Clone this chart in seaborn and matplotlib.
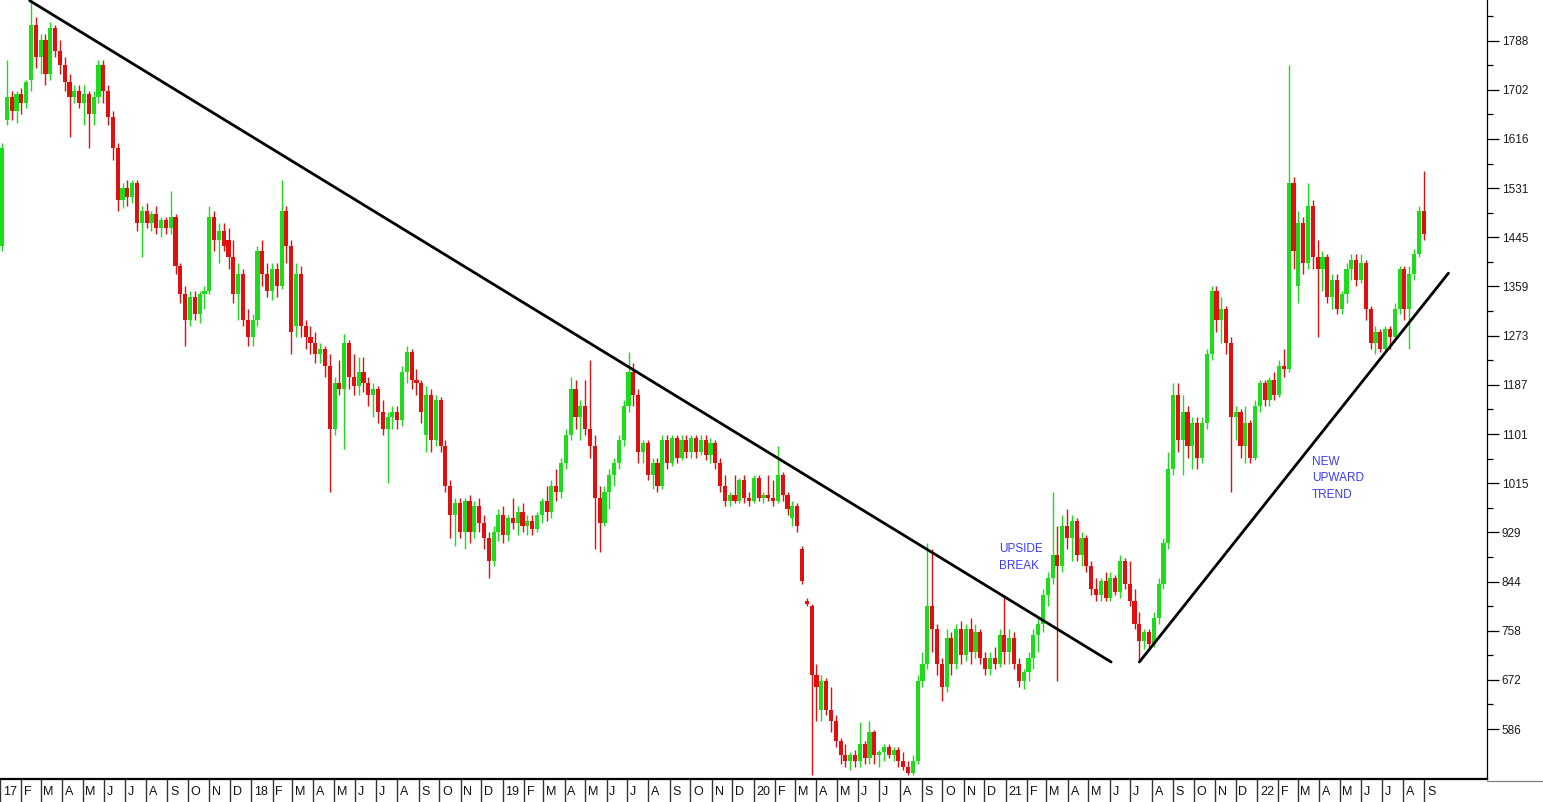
import numpy as np
import pandas as pd
import matplotlib
matplotlib.use("Agg")
import matplotlib.pyplot as plt
import matplotlib.dates as mdates
from matplotlib.lines import Line2D
import seaborn as sns

sns.set_style("white")
plt.rcParams['font.family'] = ['Liberation Sans', 'DejaVu Sans']

# weekly bars, Jan 2017 - Aug 2022
opens = [
    # 2017
    1430, 1650, 1690, 1665, 1695, 1680, 1720, 1815, 1760, 1790, 1730, 1810, 1770, 1745, 1715, 1690, 1700, 1680,
    1695, 1660, 1690, 1745, 1700, 1655, 1600, 1510, 1530, 1515, 1540, 1470, 1490, 1470, 1485, 1460, 1475, 1460,
    1480, 1395, 1345, 1300, 1340, 1310, 1345, 1350, 1480, 1440, 1455, 1440, 1410, 1345, 1380, 1300,
    # 2018
    1270, 1300, 1420, 1380, 1350, 1390, 1360, 1490, 1430, 1290, 1380, 1290, 1270, 1260, 1240, 1250, 1220, 1110,
    1190, 1180, 1260, 1200, 1185, 1210, 1190, 1170, 1180, 1140, 1110, 1130, 1140, 1125, 1210, 1245, 1195, 1190,
    1100, 1170, 1090, 1160, 1080, 1010, 960, 980, 930, 985, 930, 975, 945, 920, 880, 930,
    # 2019
    960, 925, 955, 945, 965, 940, 950, 935, 960, 985, 965, 1010, 1000, 1050, 1100, 1180, 1130, 1150,
    1110, 1080, 990, 945, 1000, 1030, 1050, 1090, 1150, 1210, 1170, 1070, 1085, 1030, 1050, 1010, 1090, 1050,
    1095, 1060, 1090, 1070, 1095, 1070, 1090, 1065, 1085, 1050, 1010, 985, 995, 985, 1020, 990,
    # 2020
    985, 1025, 990, 995, 990, 985, 1030, 995, 955, 975, 900, 810, 800, 680, 620, 670, 620, 600,
    565, 540, 530, 540, 530, 560, 535, 580, 540, 545, 555, 540, 550, 530, 520, 510, 530, 670,
    700, 800, 760, 700, 660, 745, 700, 760, 715, 760, 720, 755, 710, 690, 710, 700, 750,
    # 2021
    720, 745, 700, 670, 685, 710, 750, 770, 820, 850, 890, 870, 940, 920, 950, 890, 920, 870,
    830, 820, 845, 815, 850, 825, 880, 840, 810, 770, 740, 755, 735, 780, 840, 910, 1040, 1170,
    1090, 1140, 1080, 1120, 1060, 1120, 1240, 1350, 1300, 1320, 1260, 1130, 1140, 1080, 1120, 1060,
    # 2022
    1150, 1190, 1160, 1195, 1170, 1220, 1215, 1540, 1360, 1470, 1400, 1500, 1410, 1390, 1410, 1340, 1370, 1320,
    1345, 1390, 1405, 1370, 1400, 1320, 1260, 1280, 1250, 1285, 1270, 1320, 1390, 1320, 1380, 1415, 1490,
]
highs = [
    # 2017
    1610, 1755, 1700, 1700, 1705, 1720, 1855, 1830, 1800, 1800, 1820, 1815, 1790, 1760, 1730, 1710, 1710, 1710,
    1700, 1700, 1755, 1755, 1710, 1665, 1610, 1540, 1545, 1545, 1545, 1500, 1505, 1490, 1500, 1480, 1480, 1525,
    1485, 1400, 1360, 1350, 1350, 1350, 1360, 1500, 1490, 1470, 1470, 1460, 1440, 1400, 1390, 1320,
    # 2018
    1310, 1430, 1440, 1400, 1400, 1400, 1545, 1500, 1440, 1400, 1395, 1300, 1290, 1280, 1260, 1255, 1240, 1200,
    1230, 1275, 1265, 1240, 1235, 1235, 1200, 1190, 1185, 1160, 1140, 1150, 1150, 1220, 1255, 1250, 1215, 1195,
    1185, 1180, 1170, 1165, 1090, 1020, 990, 990, 990, 995, 985, 990, 960, 930, 940, 970,
    # 2019
    975, 960, 990, 975, 980, 960, 960, 965, 990, 1010, 1020, 1040, 1060, 1110, 1200, 1195, 1160, 1195,
    1230, 1100, 1010, 1010, 1040, 1060, 1100, 1160, 1245, 1225, 1180, 1090, 1090, 1060, 1060, 1100, 1100, 1100,
    1100, 1100, 1100, 1100, 1100, 1100, 1100, 1095, 1090, 1060, 1030, 1000, 1030, 1025, 1030, 1000,
    # 2020
    1030, 1030, 1000, 1030, 1020, 1080, 1035, 1000, 985, 980, 905, 815, 805, 700, 680, 675, 660, 610,
    570, 560, 545, 550, 598, 565, 600, 585, 550, 560, 560, 555, 555, 545, 530, 540, 680, 720,
    910, 900, 770, 710, 760, 755, 770, 775, 770, 780, 770, 760, 720, 720, 730, 760, 820,
    # 2021
    760, 755, 710, 690, 720, 760, 780, 830, 860, 1000, 940, 960, 970, 960, 955, 930, 925, 880,
    850, 850, 860, 860, 855, 890, 885, 880, 830, 790, 760, 760, 790, 850, 920, 1070, 1190, 1190,
    1170, 1150, 1130, 1130, 1130, 1250, 1360, 1360, 1340, 1325, 1270, 1150, 1145, 1150, 1125, 1160,
    # 2022
    1195, 1195, 1200, 1210, 1230, 1250, 1745, 1550, 1490, 1480, 1540, 1510, 1440, 1420, 1415, 1380, 1380, 1350,
    1400, 1415, 1415, 1415, 1405, 1325, 1290, 1285, 1290, 1290, 1330, 1395, 1395, 1395, 1425, 1500, 1560,
]
lows = [
    # 2017
    1420, 1640, 1650, 1645, 1660, 1670, 1700, 1740, 1730, 1710, 1720, 1760, 1730, 1700, 1620, 1680, 1670, 1640,
    1600, 1640, 1680, 1680, 1640, 1580, 1490, 1495, 1500, 1505, 1455, 1410, 1460, 1455, 1450, 1445, 1450, 1450,
    1380, 1330, 1255, 1290, 1300, 1295, 1320, 1345, 1420, 1400, 1420, 1390, 1330, 1300, 1290, 1255,
    # 2018
    1255, 1290, 1360, 1340, 1335, 1340, 1355, 1400, 1240, 1270, 1270, 1250, 1240, 1225, 1225, 1200, 1000, 1100,
    1170, 1075, 1180, 1170, 1170, 1175, 1150, 1130, 1120, 1100, 1015, 1110, 1110, 1115, 1190, 1180, 1170, 1120,
    1070, 1070, 1080, 1070, 1000, 920, 905, 920, 900, 910, 920, 930, 900, 850, 870, 915,
    # 2019
    910, 915, 935, 925, 930, 925, 925, 930, 945, 950, 955, 985, 990, 1040, 1090, 1110, 1090, 1100,
    1060, 900, 895, 940, 970, 1010, 1040, 1080, 1140, 1150, 1050, 1050, 1020, 1005, 1000, 1005, 1040, 1045,
    1050, 1055, 1060, 1060, 1060, 1065, 1055, 1050, 1040, 1000, 975, 975, 980, 980, 980, 975,
    # 2020
    980, 985, 980, 985, 975, 980, 985, 960, 940, 930, 840, 800, 505, 600, 600, 610, 580, 555,
    525, 520, 515, 520, 520, 525, 525, 525, 520, 530, 535, 530, 520, 515, 505, 505, 525, 660,
    690, 720, 680, 635, 650, 680, 690, 700, 705, 700, 710, 700, 680, 680, 690, 695, 700,
    # 2021
    700, 690, 660, 655, 670, 690, 720, 755, 800, 840, 670, 860, 900, 880, 880, 870, 860, 820,
    810, 810, 810, 810, 820, 815, 830, 800, 760, 705, 725, 725, 730, 770, 830, 900, 1030, 1070,
    1030, 1060, 1040, 1040, 1050, 1110, 1230, 1280, 1260, 1240, 1000, 1090, 1060, 1050, 1050, 1055,
    # 2022
    1140, 1150, 1150, 1160, 1165, 1200, 1210, 1390, 1330, 1380, 1390, 1390, 1270, 1350, 1330, 1320, 1310, 1310,
    1330, 1370, 1360, 1365, 1300, 1250, 1240, 1245, 1245, 1250, 1265, 1310, 1300, 1250, 1370, 1410, 1440,
]
closes = [
    # 2017
    1600, 1690, 1665, 1695, 1680, 1715, 1815, 1760, 1790, 1730, 1810, 1770, 1745, 1715, 1690, 1700, 1680, 1695,
    1660, 1690, 1745, 1700, 1655, 1600, 1510, 1530, 1515, 1540, 1470, 1490, 1470, 1485, 1460, 1475, 1460, 1480,
    1395, 1345, 1300, 1340, 1310, 1345, 1350, 1480, 1440, 1455, 1430, 1410, 1345, 1380, 1300, 1270,
    # 2018
    1300, 1420, 1380, 1350, 1390, 1360, 1490, 1430, 1280, 1380, 1290, 1270, 1260, 1240, 1250, 1220, 1110, 1190,
    1180, 1260, 1200, 1185, 1210, 1190, 1170, 1180, 1140, 1110, 1130, 1140, 1125, 1210, 1245, 1195, 1190, 1140,
    1170, 1090, 1160, 1080, 1010, 960, 980, 930, 985, 930, 975, 945, 920, 880, 930, 960,
    # 2019
    925, 955, 945, 965, 940, 950, 935, 960, 985, 965, 1010, 1000, 1050, 1100, 1180, 1130, 1150, 1110,
    1080, 990, 945, 1000, 1030, 1050, 1090, 1150, 1210, 1170, 1070, 1085, 1030, 1050, 1010, 1090, 1050, 1095,
    1060, 1090, 1070, 1095, 1070, 1090, 1065, 1085, 1050, 1010, 985, 995, 985, 1020, 990, 985,
    # 2020
    1025, 990, 995, 990, 985, 1030, 995, 970, 975, 940, 845, 805, 680, 660, 670, 620, 600, 565,
    540, 530, 540, 530, 560, 535, 580, 540, 545, 555, 540, 550, 530, 520, 510, 530, 670, 700,
    800, 760, 700, 660, 745, 700, 760, 715, 760, 720, 755, 710, 690, 710, 700, 750, 720,
    # 2021
    745, 700, 670, 685, 710, 750, 770, 820, 850, 890, 870, 940, 920, 950, 890, 920, 870, 830,
    820, 845, 815, 850, 825, 880, 840, 810, 770, 740, 755, 735, 780, 840, 910, 1040, 1170, 1090,
    1140, 1080, 1120, 1060, 1120, 1240, 1350, 1300, 1320, 1260, 1130, 1140, 1080, 1120, 1060, 1150,
    # 2022
    1190, 1160, 1195, 1170, 1220, 1215, 1540, 1420, 1470, 1400, 1500, 1410, 1390, 1410, 1340, 1370, 1320, 1345,
    1390, 1405, 1370, 1400, 1320, 1260, 1280, 1250, 1285, 1270, 1320, 1390, 1320, 1380, 1415, 1490, 1450,
]

week_dates = pd.date_range("2017-01-04", periods=len(closes), freq="7D")

# trend lines drawn on the chart
down_dates = ["2017-02-13", "2021-06-03"]
down_prices = [1858, 703]
up_dates = ["2021-07-14", "2022-10-06"]
up_prices = [703, 1382]

ytick_vals = np.linspace(586, 1788, 15)
ytick_labels = ["586", "672", "758", "844", "929", "1015", "1101", "1187",
                "1273", "1359", "1445", "1531", "1616", "1702", "1788"]

month_starts = pd.date_range("2017-01-01", "2022-09-01", freq="MS")
month_letters = "JFMAMJJASOND"
month_labels = [f"{d.year % 100:02d}" if d.month == 1 else month_letters[d.month - 1] for d in month_starts]

GREEN, RED = "#1cdc1c", "#e01010"

fig = plt.figure(figsize=(15.43, 8.02), dpi=100)
ax = fig.add_axes([0, 23 / 802, 1487 / 1543, 779 / 802])

df = pd.DataFrame({"date": mdates.date2num(week_dates), "open": opens, "high": highs,
                   "low": lows, "close": closes})
df["up"] = df["close"] >= df["open"]
cols = np.where(df["up"], GREEN, RED)

ax.vlines(df["date"], df["low"], df["high"], colors=cols, lw=1.0, zorder=2)
body_lo = np.minimum(df["open"], df["close"])
body_h = np.maximum(np.abs(df["close"] - df["open"]), 5)
ax.bar(df["date"], body_h, bottom=body_lo, width=6.0, color=cols, lw=0, zorder=3)

sns.lineplot(x=mdates.date2num(pd.to_datetime(down_dates)), y=down_prices, ax=ax,
             color="black", lw=2.0, zorder=4)
sns.lineplot(x=mdates.date2num(pd.to_datetime(up_dates)), y=up_prices, ax=ax,
             color="black", lw=2.0, zorder=4)

ax.text(mdates.date2num(pd.Timestamp("2020-12-22")), 910, "UPSIDE\nBREAK", color="#3a3aff",
        fontsize=8.5, va="top", ha="left", linespacing=1.45)
ax.text(mdates.date2num(pd.Timestamp("2022-03-22")), 1062, "NEW\nUPWARD\nTREND", color="#3a3aff",
        fontsize=8.5, va="top", ha="left", linespacing=1.45)

ax.set_xlim(mdates.date2num(pd.Timestamp("2017-01-01")), mdates.date2num(pd.Timestamp("2022-12-01")))
ax.set_ylim(498.7, 1859)

# right-hand price scale
ax.yaxis.tick_right()
ax.set_yticks(ytick_vals)
ax.set_yticklabels(ytick_labels)
step = ytick_vals[1] - ytick_vals[0]
ax.set_yticks(list((ytick_vals[:-1] + ytick_vals[1:]) / 2) + [ytick_vals[-1] + step / 2], minor=True)
ax.tick_params(axis="y", which="both", left=False, right=True)
ax.tick_params(axis="y", which="major", direction="out", length=8.5, width=0.9, pad=2,
               labelsize=8.5, colors="black", labelcolor="#1a1a1a")
ax.tick_params(axis="y", which="minor", direction="out", length=4.3, width=0.9, colors="black")

# month boxes along the bottom
ax.set_xticks(mdates.date2num(month_starts + pd.Timedelta(days=4)))
ax.set_xticklabels(month_labels, ha="left")
ax.set_xticks(mdates.date2num(month_starts), minor=True)
ax.tick_params(axis="x", which="both", bottom=True, top=False)
ax.tick_params(axis="x", which="major", length=0, pad=5, labelsize=9, labelcolor="#111111")
ax.tick_params(axis="x", which="minor", direction="out", length=16.5, width=1.0, color="#333333")

for s in ["left", "top"]:
    ax.spines[s].set_visible(False)
ax.spines["right"].set_linewidth(0.9)
ax.spines["right"].set_color("black")
ax.spines["bottom"].set_linewidth(1.6)
ax.spines["bottom"].set_color("black")
ax.grid(False)

fig.add_artist(Line2D([1487 / 1543, 1], [21 / 802, 21 / 802], color="#808080", lw=0.9))

fig.savefig("out.png", dpi=100)
